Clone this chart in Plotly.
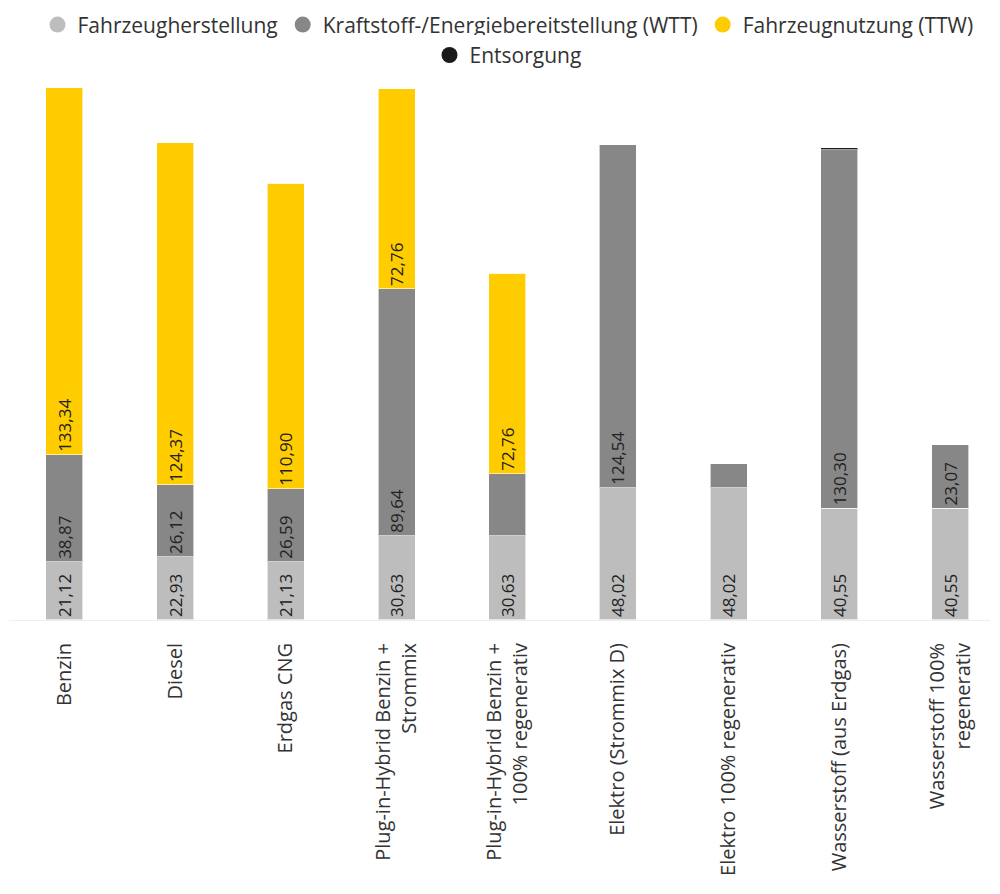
import plotly.graph_objects as go

categories = [
    "Benzin",
    "Diesel",
    "Erdgas CNG",
    "Plug-in-Hybrid Benzin +<br>Strommix",
    "Plug-in-Hybrid Benzin +<br>100% regenerativ",
    "Elektro (Strommix D)",
    "Elektro 100% regenerativ",
    "Wasserstoff (aus Erdgas)",
    "Wasserstoff 100%<br>regenerativ",
]

herstellung = [21.12, 22.93, 21.13, 30.63, 30.63, 48.02, 48.02, 40.55, 40.55]
bereitstellung = [38.87, 26.12, 26.59, 89.64, 22.5, 124.54, 8.7, 130.30, 23.07]
nutzung = [133.34, 124.37, 110.90, 72.76, 72.76, 0, 0, 0, 0]
entsorgung = [0, 0, 0, 0, 0, 0, 0, 0.7, 0]

# segments drawn without a value label
unlabeled_wtt = {4, 6}

series_names = [
    "Fahrzeugherstellung",
    "Kraftstoff-/Energiebereitstellung (WTT)",
    "Fahrzeugnutzung (TTW)",
    "Entsorgung",
]
colors = ["#bdbdbd", "#878787", "#ffcc00", "#1a1a1a"]
# first three entries share the upper legend row, the last one sits below
legend_rows = ["legend", "legend", "legend", "legend2"]


def fmt(v):
    return f"{v:.2f}".replace(".", ",")


def labels(values, skip=()):
    return ["" if (v == 0 or i in skip) else fmt(v) for i, v in enumerate(values)]


x_idx = list(range(len(categories)))
series_values = [herstellung, bereitstellung, nutzung, entsorgung]
series_text = [
    labels(herstellung),
    labels(bereitstellung, unlabeled_wtt),
    labels(nutzung),
    ["" for _ in entsorgung],
]

fig = go.Figure()
for name, vals, txt, col in zip(series_names, series_values, series_text, colors):
    fig.add_trace(
        go.Bar(
            x=x_idx,
            y=vals,
            name=name,
            marker=dict(color=col, line=dict(color="rgba(255,255,255,0.6)", width=1)),
            text=txt,
            texttemplate="%{text}",
            textposition="inside",
            insidetextanchor="start",
            textangle=-90,
            constraintext="none",
            insidetextfont=dict(family="Open Sans", size=17, color="#222222"),
            showlegend=False,
            hoverinfo="skip",
        )
    )

# round legend symbols
for name, col, lg in zip(series_names, colors, legend_rows):
    fig.add_trace(
        go.Scatter(
            x=[None],
            y=[None],
            mode="markers",
            name=name,
            marker=dict(color=col, size=20, symbol="circle"),
            showlegend=True,
            legend=lg,
        )
    )

legend_style = dict(
    orientation="h",
    x=0.508,
    xanchor="center",
    xref="container",
    yanchor="top",
    yref="container",
    font=dict(size=21, color="#333333"),
    itemsizing="trace",
    traceorder="normal",
)

fig.update_layout(
    width=1000,
    height=894,
    barmode="stack",
    bargap=0.666,
    plot_bgcolor="white",
    paper_bgcolor="white",
    margin=dict(l=9, r=10, t=80, b=274),
    font=dict(family="Open Sans", color="#333333"),
    legend=dict(legend_style, y=0.995),
    legend2=dict(legend_style, y=0.961),
    xaxis=dict(
        tickmode="array",
        tickvals=x_idx,
        ticktext=categories,
        tickangle=-90,
        tickfont=dict(size=20, color="#333333"),
        range=[-0.5, 8.36],
        showgrid=False,
        showline=True,
        linecolor="#eeeeee",
        linewidth=1,
        ticks="outside",
        ticklen=14,
        tickcolor="rgba(0,0,0,0)",
        zeroline=False,
    ),
    yaxis=dict(
        range=[0, 194.4],
        showgrid=False,
        zeroline=False,
        showticklabels=False,
        showline=False,
    ),
)

fig.write_html("out.html")
